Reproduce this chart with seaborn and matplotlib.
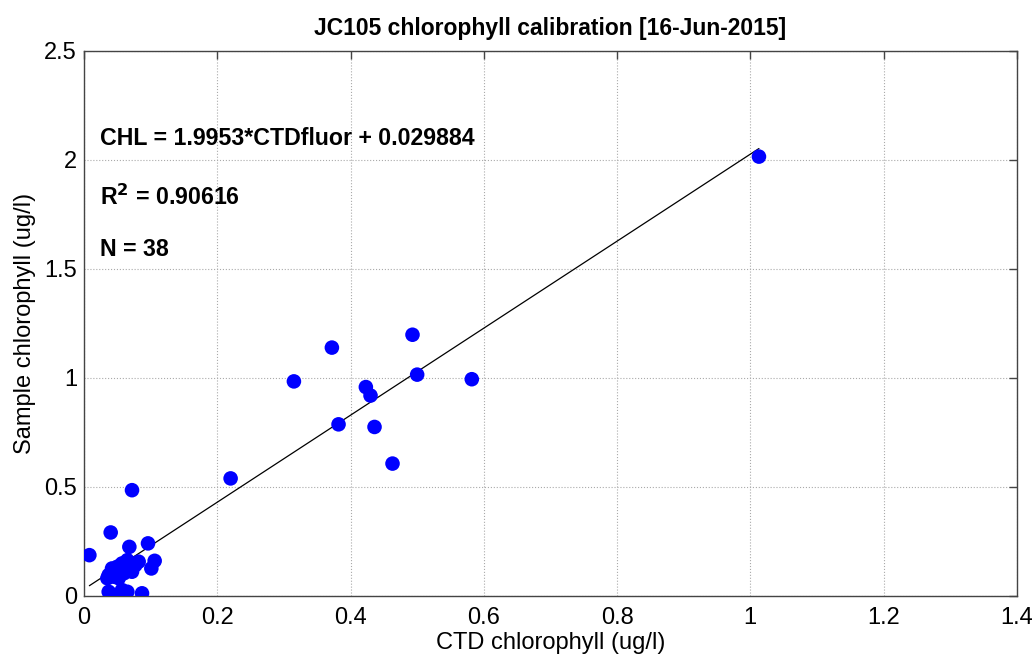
import numpy as np
import pandas as pd
import matplotlib
matplotlib.use("Agg")
import matplotlib.pyplot as plt
import seaborn as sns

# CTD fluorometer chlorophyll vs bottle sample chlorophyll (ug/l)
ctd_chl = [1.013, 0.315, 0.372, 0.493, 0.423, 0.430, 0.500, 0.582, 0.382, 0.436,
           0.463, 0.220, 0.072,
           0.040, 0.008, 0.068, 0.096, 0.106, 0.101,
           0.037, 0.047, 0.057, 0.065, 0.087,
           0.065, 0.057, 0.050, 0.042, 0.037, 0.035, 0.067, 0.077, 0.082,
           0.060, 0.047, 0.072, 0.052, 0.045]
sample_chl = [2.014, 0.983, 1.138, 1.197, 0.957, 0.918, 1.014, 0.993, 0.786, 0.774,
              0.606, 0.538, 0.484,
              0.290, 0.186, 0.224, 0.240, 0.160, 0.125,
              0.018, 0.003, 0.026, 0.018, 0.011,
              0.163, 0.148, 0.133, 0.125, 0.095, 0.080, 0.125, 0.140, 0.156,
              0.103, 0.103, 0.110, 0.080, 0.087]

slope = 1.9953
intercept = 0.029884
r2 = 0.90616

df = pd.DataFrame({'ctd': ctd_chl, 'sample': sample_chl})
fit = pd.DataFrame({'ctd': [df['ctd'].min(), df['ctd'].max()]})
fit['sample'] = slope * fit['ctd'] + intercept

sns.set_style('white')
plt.rcParams['font.family'] = ['Liberation Sans', 'DejaVu Sans']
plt.rcParams['text.color'] = 'black'
plt.rcParams['axes.labelcolor'] = 'black'
plt.rcParams['xtick.color'] = '#444444'
plt.rcParams['ytick.color'] = '#444444'
plt.rcParams['xtick.labelcolor'] = 'black'
plt.rcParams['ytick.labelcolor'] = 'black'

fig = plt.figure(figsize=(10.35, 6.57), dpi=100)
ax = fig.add_axes([0.0812, 0.0933, 0.9012, 0.8296])

sns.lineplot(data=fit, x='ctd', y='sample', color='black', linewidth=0.9, ax=ax, zorder=2)
sns.scatterplot(data=df, x='ctd', y='sample', color='#0000ff', edgecolor='none',
                s=110, ax=ax, zorder=3)

ax.set_xlim(0, 1.4)
ax.set_ylim(0, 2.5)
ax.set_xticks(np.arange(0, 1.41, 0.2))
ax.set_xticklabels(['0', '0.2', '0.4', '0.6', '0.8', '1', '1.2', '1.4'])
ax.set_yticks(np.arange(0, 2.51, 0.5))
ax.set_yticklabels(['0', '0.5', '1', '1.5', '2', '2.5'])
ax.tick_params(direction='in', length=6, width=1, top=True, right=True,
               labelsize=17)
ax.tick_params(axis='x', pad=8)
ax.tick_params(axis='y', pad=5)
ax.grid(True, linestyle=':', color='#aaaaaa', linewidth=0.8)
for sp in ax.spines.values():
    sp.set_color('#444444')
    sp.set_linewidth(1.0)

ax.set_xlabel('CTD chlorophyll (ug/l)', fontsize=17, labelpad=2)
ax.set_ylabel('Sample chlorophyll (ug/l)', fontsize=17, labelpad=6)
ax.set_title('JC105 chlorophyll calibration [16-Jun-2015]', fontsize=16.5,
             fontweight='bold', pad=11)

ax.text(0.024, 2.096, f'CHL = {slope}*CTDfluor + {intercept}', fontsize=16.7,
        fontweight='bold', va='center')
ax.text(0.024, 1.826, f'R$^\\mathbf{{2}}$ = {r2}', fontsize=16.7,
        fontweight='bold', va='center')
ax.text(0.024, 1.59, f'N = {len(df)}', fontsize=16.7, fontweight='bold', va='center')

fig.savefig('out.png', dpi=100)
